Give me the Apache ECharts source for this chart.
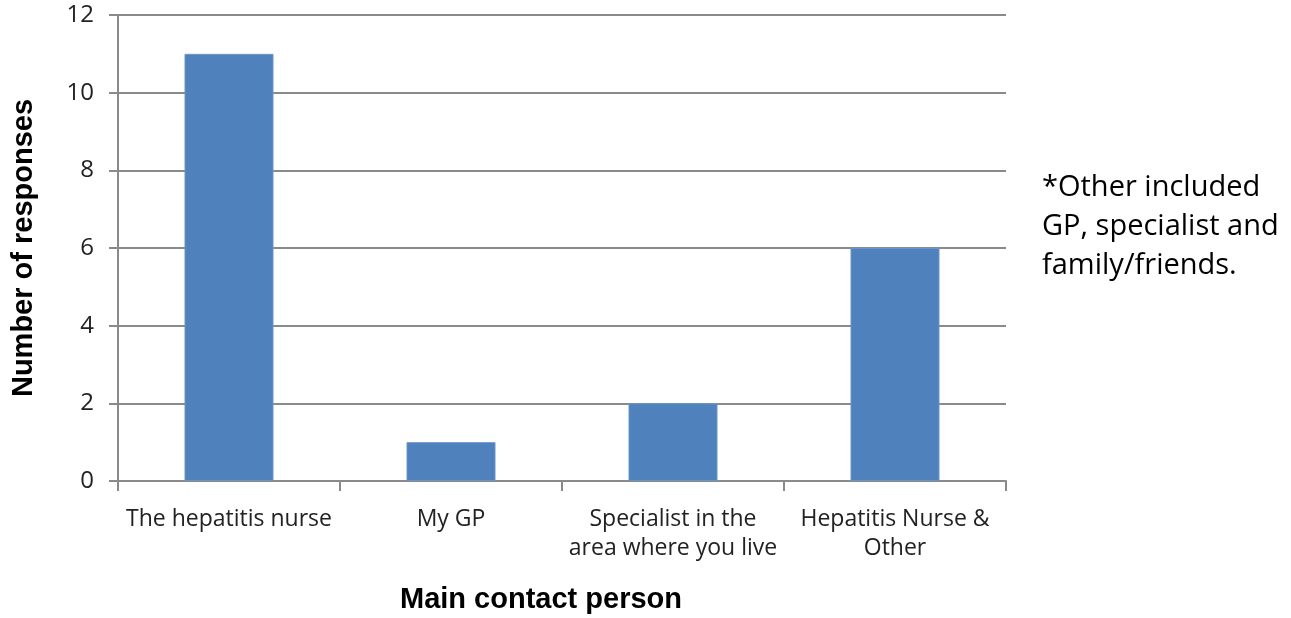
<!DOCTYPE html>
<html>
<head>
<meta charset="utf-8">
<script src="https://cdn.jsdelivr.net/npm/echarts@6/dist/echarts.min.js"></script>
<style>
  html, body { margin: 0; padding: 0; background: #fff; }
  #chart { width: 1291px; height: 618px; }
</style>
</head>
<body>
<div id="chart"></div>
<script>
// data
const categories = ['The hepatitis nurse', 'My GP', 'Specialist in the\narea where you live', 'Hepatitis Nurse &\nOther']
const responses = [11, 1, 2, 6]
const yTicks = { min: 0, max: 12, step: 2 }
const noteLines = ['*Other included', 'GP, specialist and', 'family/friends.']

const gridColor = '#8a8a8a'
const labelFont = '"Open Sans", "Noto Sans", sans-serif'

const myChart = echarts.init(document.getElementById('chart'))

const options = {
  animation: false,
  grid: { left: 118, right: 285, top: 15, bottom: 137, outerBoundsMode: 'none', containLabel: false },
  xAxis: {
    type: 'category',
    data: categories,
    axisLine: { lineStyle: { color: gridColor, width: 2 } },
    axisTick: { show: true, length: 10, lineStyle: { color: gridColor, width: 2 } },
    axisLabel: {
      color: '#222',
      fontFamily: labelFont,
      fontSize: 23,
      lineHeight: 29,
      margin: 24,
      interval: 0
    }
  },
  yAxis: {
    type: 'value',
    min: yTicks.min,
    max: yTicks.max,
    interval: yTicks.step,
    name: 'Number of responses',
    nameLocation: 'middle',
    nameGap: 80,
    nameTextStyle: {
      color: '#000',
      fontFamily: '"Liberation Sans", Arial, sans-serif',
      fontWeight: 'bold',
      fontSize: 29
    },
    axisLine: { show: true, lineStyle: { color: gridColor, width: 2 } },
    axisTick: { show: true, length: 9, lineStyle: { color: gridColor, width: 2 } },
    splitLine: { lineStyle: { color: gridColor, width: 2 } },
    axisLabel: {
      color: '#222',
      fontFamily: labelFont,
      fontSize: 24,
      margin: 24
    }
  },
  graphic: [
    {
      type: 'text',
      left: 400,
      top: 585,
      style: {
        text: 'Main contact person',
        fill: '#000',
        font: 'bold 29px "Liberation Sans", Arial, sans-serif'
      }
    },
    {
      type: 'text',
      left: 1042,
      top: 168,
      style: {
        text: noteLines.join('\n'),
        fill: '#000',
        font: '29px "Open Sans", "Noto Sans", sans-serif',
        lineHeight: 39
      }
    }
  ],
  series: [{
    type: 'bar',
    data: responses,
    barWidth: 89,
    itemStyle: { color: '#4f81bd', borderColor: '#6b95c9', borderWidth: 1 },
    silent: true
  }]
}

myChart.setOption(options)
</script>
</body>
</html>
